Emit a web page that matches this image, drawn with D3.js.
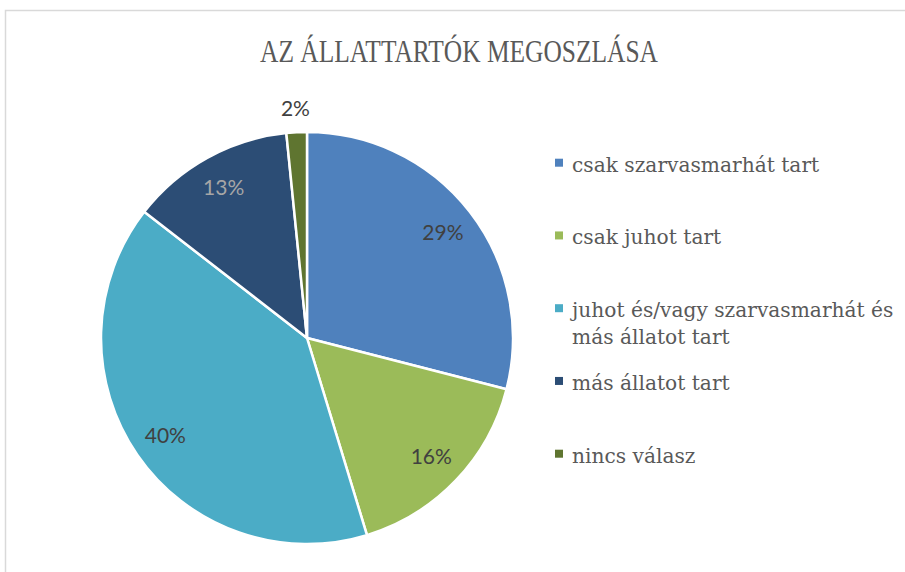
<!DOCTYPE html>
<html lang="hu">
<head>
  <meta charset="utf-8">
  <title>Az állattartók megoszlása</title>
  <style>
  html, body {padding: 0; margin: 0; overflow: hidden; background: #fff}
  </style>
</head>
<body>
  <svg></svg>
  <script src="https://d3js.org/d3.v7.min.js"></script>
  <script>

  // data
  var categories = ["csak szarvasmarhát tart", "csak juhot tart", "juhot és/vagy szarvasmarhát és más állatot tart", "más állatot tart", "nincs válasz"];
  var legendLines = [["csak szarvasmarhát tart"], ["csak juhot tart"], ["juhot és/vagy szarvasmarhát és", "más állatot tart"], ["más állatot tart"], ["nincs válasz"]];
  var shares = [29.0, 16.3, 40.2, 12.9, 1.6];
  var labels = ["29%", "16%", "40%", "13%", "2%"];
  var colors = ["#4F81BD", "#9BBB59", "#4BACC6", "#2C4D75", "#5F7530"];
  var labelColors = ["#404040", "#404040", "#404040", "#A6A6A6", "#404040"];

  var width = 905, height = 572;
  var cx = 307, cy = 338, radius = 206;

  var svg = d3.select("svg").attr("width", width).attr("height", height);

  // chart border
  svg.append("rect")
    .attr("x", 5.5).attr("y", 10.5)
    .attr("width", width).attr("height", height)
    .attr("fill", "none").attr("stroke", "#D9D9D9").attr("stroke-width", 1.5);

  svg.append("text")
    .attr("x", 459).attr("y", 62)
    .attr("text-anchor", "middle")
    .attr("font-family", "Liberation Serif, serif")
    .attr("font-size", 32)
    .attr("textLength", 398)
    .attr("lengthAdjust", "spacingAndGlyphs")
    .attr("fill", "#595959")
    .text("AZ ÁLLATTARTÓK MEGOSZLÁSA");

  var pie = d3.pie().sort(null).value(function(d) { return d; });
  var arcs = pie(shares);

  var arc = d3.arc().innerRadius(0).outerRadius(radius);
  var labelArc = d3.arc().innerRadius(172).outerRadius(172);
  var outerLabelArc = d3.arc().innerRadius(230).outerRadius(230);

  var g = svg.append("g").attr("transform", "translate(" + cx + "," + cy + ")");

  g.selectAll("path.slice")
    .data(arcs)
    .enter().append("path")
    .attr("class", "slice")
    .attr("d", arc)
    .attr("fill", function(d, i) { return colors[i]; })
    .attr("stroke", "#fff")
    .attr("stroke-width", 2.5)
    .attr("stroke-linejoin", "round");

  g.selectAll("text.pct")
    .data(arcs)
    .enter().append("text")
    .attr("class", "pct")
    .attr("transform", function(d, i) {
      var c = (i === 4 ? outerLabelArc : labelArc).centroid(d);
      return "translate(" + c[0] + "," + c[1] + ")";
    })
    .attr("dy", "0.35em")
    .attr("text-anchor", "middle")
    .attr("font-family", "Lato, 'Open Sans', sans-serif")
    .attr("font-size", 21)
    .attr("fill", function(d, i) { return labelColors[i]; })
    .text(function(d, i) { return labels[i]; });

  // legend
  var ly = d3.scalePoint().domain(categories).range([171.7, 462.7]);

  var legend = svg.append("g").selectAll("g")
    .data(categories)
    .enter().append("g")
    .attr("transform", function(d) { return "translate(555," + ly(d) + ")"; });

  legend.append("rect")
    .attr("x", 0).attr("y", -13)
    .attr("width", 8).attr("height", 8)
    .attr("fill", function(d, i) { return colors[i]; });

  legend.append("text")
    .attr("x", 17)
    .attr("font-family", "DejaVu Serif, serif")
    .attr("font-size", 20.2)
    .attr("fill", "#595959")
    .selectAll("tspan")
    .data(function(d, i) { return legendLines[i]; })
    .enter().append("tspan")
    .attr("x", 17)
    .attr("dy", function(d, j) { return j === 0 ? 0 : 27.3; })
    .text(function(d) { return d; });

  </script>
</body>
</html>
